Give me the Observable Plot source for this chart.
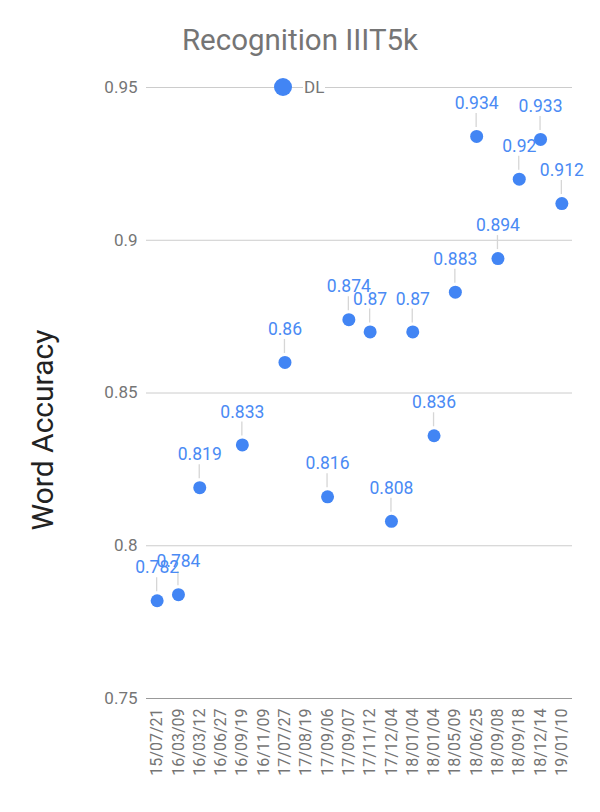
<!DOCTYPE html>
<html>
<head>
<meta charset="utf-8">
<script src="https://cdn.jsdelivr.net/npm/d3@7"></script>
<script src="https://cdn.jsdelivr.net/npm/@observablehq/plot@0.6"></script>
<style>
  html, body { margin: 0; padding: 0; background: #fff; }
  #wrap { position: relative; width: 600px; height: 812px; font-family: Roboto, sans-serif; }
  #title { position: absolute; left: 0; width: 600px; top: 23px; text-align: center; font-size: 29.5px; color: #757575; line-height: 1.2; }
  #ytitle { position: absolute; left: 43px; top: 430px; transform: translate(-50%, -50%) rotate(-90deg); font-size: 30px; color: #222; white-space: nowrap; line-height: 1.2; }
  #legend { position: absolute; left: 274px; top: 78px; display: flex; align-items: center; font-size: 17px; color: #757575; height: 18px; }
  #legend .sw { width: 18px; height: 18px; border-radius: 50%; background: #4285f4; margin-right: 11px; }
  #legend .tx { background: #fff; padding: 0 1px; }
</style>
</head>
<body>
<div id="wrap">
  <div id="chart"></div>
  <div id="title">Recognition IIIT5k</div>
  <div id="ytitle">Word Accuracy</div>
  <div id="legend"><div class="sw"></div><div class="tx">DL</div></div>
</div>
<script>
const dates = ["15/07/21","16/03/09","16/03/12","16/06/27","16/09/19","16/11/09","17/07/27","17/08/19","17/09/06","17/09/07","17/11/12","17/12/04","18/01/04","18/01/04","18/05/09","18/06/25","18/09/08","18/09/18","18/12/14","19/01/10"];
const accuracy = [0.782,0.784,0.819,null,0.833,null,0.86,null,0.816,0.874,0.87,0.808,0.87,0.836,0.883,0.934,0.894,0.92,0.933,0.912];
const labels = ["0.782","0.784","0.819",null,"0.833",null,"0.86",null,"0.816","0.874","0.87","0.808","0.87","0.836","0.883","0.934","0.894","0.92","0.933","0.912"];
const yTicks = [0.75,0.8,0.85,0.9,0.95];
const yTickLabels = ["0.75","0.8","0.85","0.9","0.95"];

const data = dates.map((d,i)=>({i, date:d, v:accuracy[i], label:labels[i]})).filter(d=>d.v!=null);
const idx = dates.map((d,i)=>i);

const chart = Plot.plot({
  width: 600,
  height: 812,
  marginTop: 87,
  marginBottom: 114,
  marginLeft: 146,
  marginRight: 28,
  style: {fontFamily: "Roboto, sans-serif", background: "transparent"},
  x: {type: "band", domain: idx, padding: 0, round: false},
  y: {type: "linear", domain: [0.75, 0.95]},
  marks: [
    Plot.gridY(yTicks, {stroke: "#ccc", strokeOpacity: 1, strokeWidth: 1}),
    Plot.ruleY([0.75], {stroke: "#999"}),
    Plot.axisY({ticks: yTicks, tickSize: 0, tickPadding: 9, tickFormat: (d)=>yTickLabels[yTicks.indexOf(d)], fontSize: 17, color: "#757575", label: null}),
    Plot.axisX({ticks: idx, tickSize: 0, tickPadding: 10, tickRotate: -90, tickFormat: (i)=>dates[i], fontSize: 16, color: "#757575", label: null}),
    Plot.dot(data, {x: "i", y: "v", r: 0, render: (index, scales, values) => {
      const bw = scales.x && typeof scales.x.bandwidth === "function" ? scales.x.bandwidth() / 2 : 0;
      const g = d3.create("svg:g");
      for (const k of index) {
        const cx = values.x[k] + bw, cy = values.y[k];
        g.append("line").attr("x1", cx).attr("x2", cx).attr("y1", cy - 9).attr("y2", cy - 23).attr("stroke", "#d6d6d6").attr("stroke-width", 1.3);
      }
      return g.node();
    }}),
    Plot.dot(data, {x: "i", y: "v", r: 6.5, fill: "#4285f4", stroke: "none"}),
    Plot.text(data, {x: "i", y: "v", text: "label", dy: -33, fill: "#4a8af4", fontSize: 17.5, textAnchor: "middle"})
  ]
});
document.getElementById("chart").appendChild(chart);
</script>
</body>
</html>
